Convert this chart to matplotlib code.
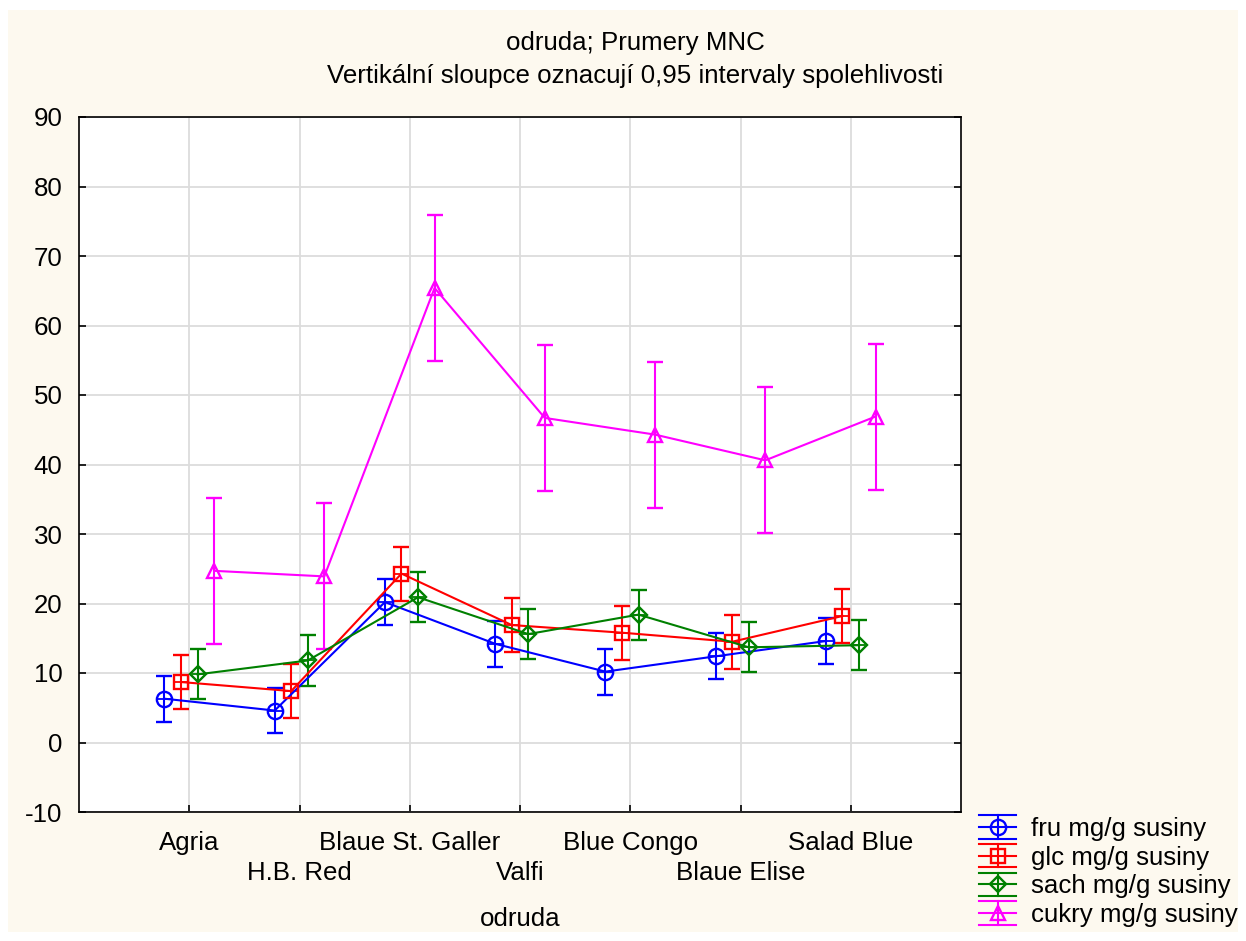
import matplotlib
matplotlib.use("Agg")
import matplotlib.pyplot as plt
from matplotlib.lines import Line2D
from matplotlib.legend_handler import HandlerBase
from matplotlib.patches import Rectangle
import numpy as np

plt.rcParams['font.family'] = ['Liberation Sans', 'DejaVu Sans']
plt.rcParams['axes.unicode_minus'] = False

# Varieties (odruda)
categories = ["Agria", "H.B. Red", "Blaue St. Galler", "Valfi",
              "Blue Congo", "Blaue Elise", "Salad Blue"]

# Least-squares means (mg/g dry matter) and 95 % CI half-widths
fru_mean = [6.3, 4.6, 20.2, 14.2, 10.2, 12.4, 14.6]
fru_ci = [3.3, 3.3, 3.3, 3.3, 3.3, 3.3, 3.3]

glc_mean = [8.7, 7.4, 24.3, 16.9, 15.8, 14.5, 18.2]
glc_ci = [3.9, 3.9, 3.9, 3.9, 3.9, 3.9, 3.9]

sach_mean = [9.8, 11.8, 20.9, 15.6, 18.4, 13.7, 14.0]
sach_ci = [3.6, 3.6, 3.6, 3.6, 3.6, 3.6, 3.6]

cukry_mean = [24.7, 23.9, 65.4, 46.7, 44.3, 40.6, 46.9]
cukry_ci = [10.5, 10.5, 10.5, 10.5, 10.5, 10.5, 10.5]

series_labels = ["fru mg/g susiny", "glc mg/g susiny",
                 "sach mg/g susiny", "cukry mg/g susiny"]

series = [
    (fru_mean, fru_ci, "#0000ff", "o", -0.225),
    (glc_mean, glc_ci, "#ff0000", "s", -0.075),
    (sach_mean, sach_ci, "#008000", "D", 0.075),
    (cukry_mean, cukry_ci, "#ff00ff", "^", 0.225),
]
marker_sizes = {"o": 11.0, "s": 10.5, "D": 8.5, "^": 10.0}

FS = 18.6

fig = plt.figure(figsize=(12.46, 9.41), dpi=100, facecolor="white")
fig.patches.append(Rectangle((8 / 1246, 9 / 941), 1230 / 1246, 922 / 941,
                             transform=fig.transFigure, facecolor="#fdf9ef",
                             edgecolor="none", zorder=-10))

ax = fig.add_axes([79 / 1246, 1 - 812 / 941, 882 / 1246, 695 / 941])
ax.set_facecolor("white")

x = np.arange(1, len(categories) + 1)

for (mean, ci, color, marker, off), lab in zip(series, series_labels):
    xs = x + off
    ax.errorbar(xs, mean, yerr=ci, color=color, ecolor=color, lw=1.5,
                elinewidth=1.5, capsize=6, capthick=1.5, marker=marker,
                markersize=marker_sizes[marker], markerfacecolor="none",
                markeredgecolor=color, markeredgewidth=1.7, zorder=3)
    if marker != "^":
        ax.plot(xs, mean, linestyle="none", marker="_",
                markersize=marker_sizes[marker], color=color,
                markeredgewidth=1.3, zorder=3)

ax.set_xlim(0, len(categories) + 1)
ax.set_ylim(-10, 90)
ax.set_yticks(np.arange(-10, 91, 10))
# Category labels alternate between two rows
ax.set_xticks(x[::2])
ax.set_xticklabels(categories[::2])
ax.set_xticks(x[1::2], minor=True)
ax.set_xticklabels(categories[1::2], minor=True)
ax.grid(True, which="both", color="#dcdcdc", lw=1.3, zorder=0)
ax.set_axisbelow(True)
ax.tick_params(axis="both", which="both", direction="in", length=5,
               width=1.2, labelsize=FS, top=False, right=True, left=True)
ax.tick_params(axis="x", which="major", pad=14)
ax.tick_params(axis="x", which="minor", pad=35)
ax.tick_params(axis="y", pad=12)
for sp in ax.spines.values():
    sp.set_linewidth(1.2)
    sp.set_color("black")

ax.set_xlabel("odruda", fontsize=FS, labelpad=16)

fig.text(0.51, 1 - 43 / 941, "odruda; Prumery MNC", ha="center",
         va="center", fontsize=FS)
fig.text(0.51, 1 - 76 / 941,
         "Vertikální sloupce oznacují 0,95 intervaly spolehlivosti",
         ha="center", va="center", fontsize=FS)


class ErrorbarKey(HandlerBase):
    def create_artists(self, legend, orig_handle, xdescent, ydescent,
                       width, height, fontsize, trans):
        color = orig_handle.get_color()
        marker = orig_handle.get_marker()
        cy = height / 2 - ydescent
        half = 0.5 * fontsize * 0.9
        x0, x1 = -xdescent, -xdescent + width
        xc = (x0 + x1) / 2
        arts = []
        for yy in (cy - half, cy, cy + half):
            arts.append(Line2D([x0, x1], [yy, yy], color=color, lw=1.5))
        arts.append(Line2D([xc, xc], [cy - half, cy + half], color=color, lw=1.5))
        arts.append(Line2D([xc], [cy], marker=marker, color=color,
                           markerfacecolor="none", markeredgewidth=1.7,
                           markersize=marker_sizes[marker]))
        for a in arts:
            a.set_transform(trans)
        return arts


handles = [Line2D([], [], color=c, marker=m) for (_, _, c, m, _) in series]
fig.legend(handles, series_labels, handler_map={Line2D: ErrorbarKey()},
           loc="upper left", bbox_to_anchor=(979 / 1246, 1 - 817 / 941),
           frameon=False, fontsize=FS, handlelength=1.45, handletextpad=0.55,
           labelspacing=0.18, borderaxespad=0, borderpad=0)

fig.savefig("out.png", dpi=100, facecolor=fig.get_facecolor())
